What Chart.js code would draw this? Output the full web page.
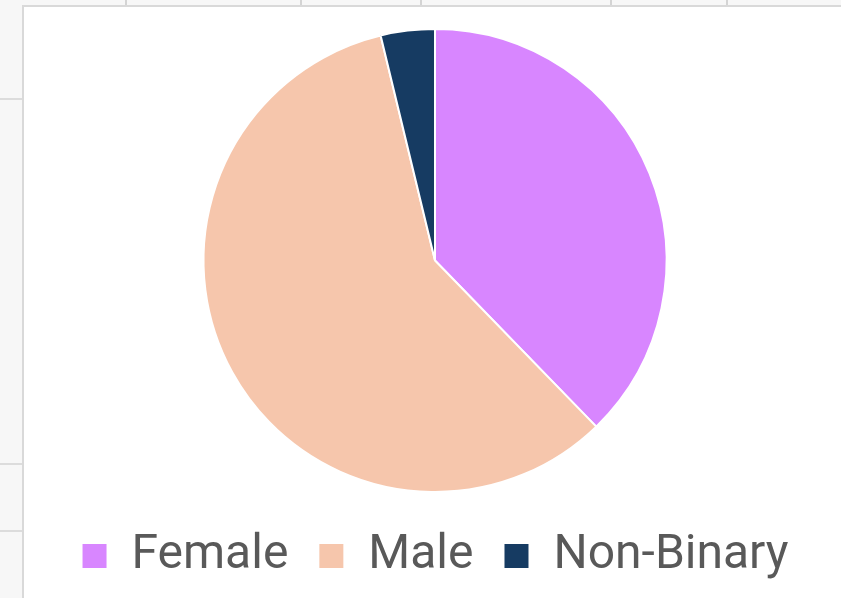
<!DOCTYPE html>
<html>
<head>
<meta charset="utf-8">
<script src="https://cdn.jsdelivr.net/npm/chart.js@4"></script>
<style>
  body { margin: 0; width: 841px; height: 598px; background: #f7f7f7; position: relative; overflow: hidden; }
  .hl { position: absolute; left: 0; width: 22px; height: 2px; background: #dcdcdc; }
  .vl { position: absolute; top: 0; width: 2px; height: 5px; background: #d4d4d4; }
  #box { position: absolute; left: 22px; top: 5px; width: 830px; height: 600px; background: #fff; border-left: 2px solid #d9d9d9; border-top: 2px solid #d9d9d9; }
  #wrap { position: absolute; left: 0; top: 0; width: 841px; height: 598px; }
</style>
</head>
<body>
<div class="hl" style="top:98px"></div>
<div class="hl" style="top:463px"></div>
<div class="hl" style="top:530px"></div>
<div class="vl" style="left:125px"></div>
<div class="vl" style="left:300px"></div>
<div class="vl" style="left:420px"></div>
<div class="vl" style="left:610px"></div>
<div class="vl" style="left:726px"></div>
<div id="box"></div>
<div id="wrap"><canvas id="chart" width="841" height="598"></canvas></div>
<script>
const categories = ["Female", "Male", "Non-Binary"];
const counts = [20, 31, 2];
const colors = ["#d886ff", "#f6c6ac", "#163b62"];

const ctx = document.getElementById("chart").getContext("2d");
const chart = new Chart(ctx, {
  type: "pie",
  data: {
    labels: categories,
    datasets: [
      {
        data: counts,
        backgroundColor: colors,
        borderColor: "#ffffff",
        borderWidth: 2,
      },
    ],
  },
  options: {
    responsive: false,
    animation: false,
    layout: {
      padding: { top: 28, bottom: 8, left: 29, right: 0 },
    },
    plugins: {
      legend: {
        position: "bottom",
        title: {
          display: true,
          text: " ",
          font: { size: 9, lineHeight: 1 },
          padding: 0,
        },
        labels: {
          color: "#595959",
          font: { family: "Roboto", size: 48 },
          boxWidth: 26,
          boxHeight: 26,
          padding: 30,
        },
      },
      tooltip: { enabled: false },
    },
  },
});
</script>
</body>
</html>
